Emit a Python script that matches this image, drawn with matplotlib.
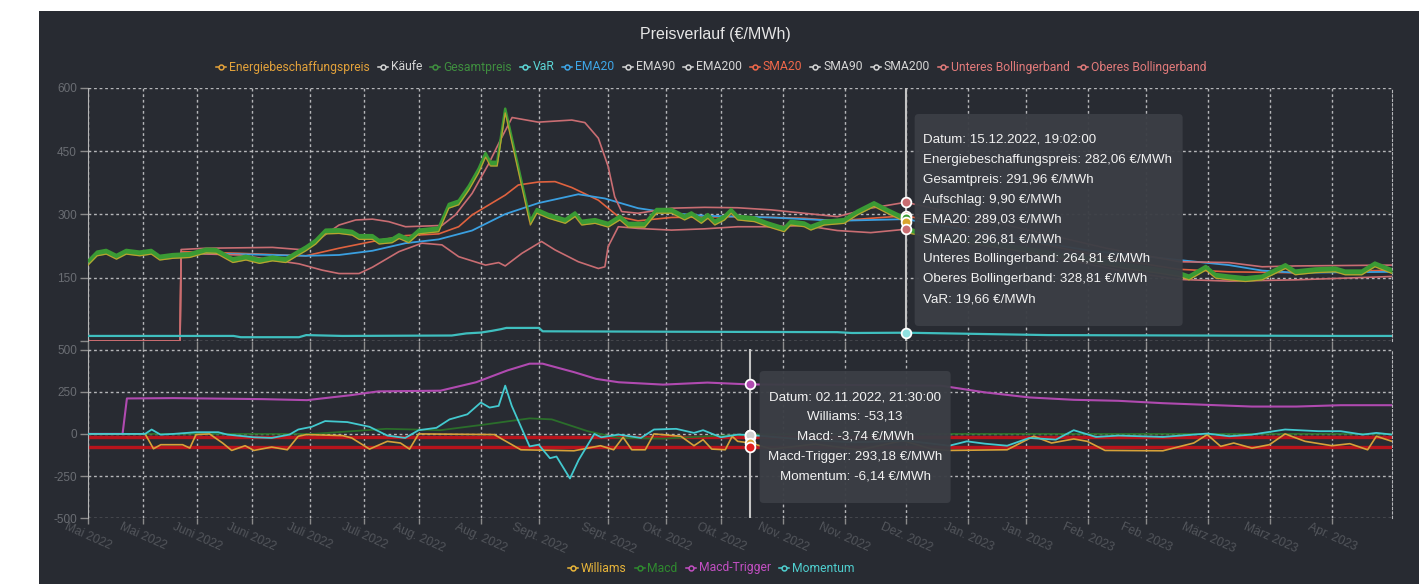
import matplotlib
matplotlib.use('Agg')
import matplotlib.pyplot as plt
from matplotlib import font_manager
from matplotlib.lines import Line2D
from matplotlib.patches import FancyBboxPatch, Rectangle
from matplotlib.transforms import IdentityTransform
import pandas as pd

W, H, DPI = 1419, 584, 100
BG = '#282b32'
GRID = '#cfd0d2'
YTICK_GRAY = '#6a6d73'
XTICK_GRAY = '#52555b'
FONT = 'Liberation Sans'
_names = {f.name for f in font_manager.fontManager.ttflist}
LEGEND_FONT = 'Liberation Sans Narrow' if 'Liberation Sans Narrow' in _names else 'Roboto'

# ---------------- Daten ----------------
START = pd.Timestamp('2022-05-05')
END = pd.Timestamp('2023-04-28 12:00')

tick_dates = ['2022-05-05', '2022-05-20', '2022-06-04', '2022-06-19', '2022-07-05',
              '2022-07-20', '2022-08-04', '2022-08-21', '2022-09-06', '2022-09-25',
              '2022-10-11', '2022-10-26', '2022-11-12', '2022-11-29', '2022-12-16',
              '2023-01-02', '2023-01-18', '2023-02-04', '2023-02-20', '2023-03-09',
              '2023-03-26', '2023-04-12']
tick_labels = ['Mai 2022', 'Mai 2022', 'Juni 2022', 'Juni 2022', 'Juli 2022', 'Juli 2022',
               'Aug. 2022', 'Aug. 2022', 'Sept. 2022', 'Sept. 2022', 'Okt. 2022', 'Okt. 2022',
               'Nov. 2022', 'Nov. 2022', 'Dez. 2022', 'Jan. 2023', 'Jan. 2023', 'Feb. 2023',
               'Feb. 2023', 'März 2023', 'März 2023', 'Apr. 2023']

# Tage seit START
price_days = [0, 2.5, 5, 7.8, 10.5, 14.2, 17.4, 19.7, 23.3, 27.9, 32.5, 35.2, 39.8, 43.4, 47.1,
              50.7, 54.4, 57.1, 59.9, 62.6, 65.3, 69, 72.6, 74.5, 78.2, 80, 83.6, 85.5, 88.2, 90.9,
              96.4, 99.2, 101.9, 104.7, 107.4, 109.3, 110.6, 112.5, 114.7, 121.6, 123.4, 126.6,
              131.2, 133.9, 135.7, 139.4, 143, 146.2, 148.5, 153.1, 156.3, 160.4, 164, 165.9,
              168.6, 170.4, 172.3, 175, 176.8, 178.6, 183.2, 186.9, 191.4, 193.2, 196.9, 198.7,
              202.4, 207.9, 211.5, 216.1, 219.7, 224.8, 226.1, 235, 245, 255, 265, 275, 285, 295,
              300, 302.7, 307.3, 310, 313.7, 318.2, 322.8, 329.2, 331.9, 337.4, 342.9, 345.6,
              350.2, 353.8, 358.5]
energy_price = [180, 202, 206, 194, 206, 202, 206, 192, 196, 198, 209, 208, 186, 192, 184,
                190, 186, 200, 214, 230, 254, 255, 251, 241, 241, 230, 233, 243, 233, 254,
                259, 315, 323, 358, 399, 436, 415, 415, 541, 275, 303, 291,
                279, 295, 275, 279, 270, 287, 270, 270, 303, 303, 287, 295,
                279, 291, 275, 287, 303, 287, 283, 271, 259, 275, 271, 263,
                275, 279, 299, 319, 303, 282, 255, 240, 228, 215, 200, 188, 172, 160,
                153, 145, 168, 149, 145, 141, 145, 172, 157, 162, 164, 157,
                157, 176, 160]
total_price = [190, 212, 216, 204, 216, 212, 216, 202, 206, 208, 219, 218, 196, 202, 194,
               200, 196, 210, 224, 240, 264, 265, 261, 251, 251, 240, 243, 253, 243, 264,
               269, 325, 333, 368, 409, 446, 425, 425, 551, 285, 313, 301,
               289, 305, 285, 289, 280, 297, 280, 280, 313, 313, 297, 305,
               289, 301, 285, 297, 313, 297, 293, 281, 269, 285, 281, 273,
               285, 289, 309, 329, 313, 292, 265, 250, 238, 225, 210, 198, 182, 170,
               163, 155, 178, 159, 155, 151, 155, 182, 167, 172, 174, 167,
               167, 186, 170]

upper_days = [0, 25.3, 25.6, 32.5, 41.6, 50.7, 58, 59.9, 64.4, 69, 73.6, 78.2, 82.7, 87.3, 97.3,
              101, 105.6, 110.2, 113.4, 116.6, 123.8, 133, 136.6, 140.3, 143, 144.8, 146.7,
              151.2, 160.4, 169.5, 178.6, 187.8, 196.9, 206, 215.2, 224.8, 240, 260, 280, 300,
              313.7, 322.8, 331.9, 358.5]
upper_band = [0, 0, 217, 220, 221, 222, 217, 216, 247, 275, 287, 289, 283, 271, 274,
              299, 350, 421, 477, 530, 519, 524, 518, 481, 414, 342, 307,
              303, 315, 317, 316, 311, 303, 295, 315, 329, 300, 260, 220, 188,
              186, 176, 178, 180]

lower_days = [0, 25.3, 25.6, 41.6, 58, 64.4, 69, 74.5, 78.2, 85.5, 91.8, 97.3, 101.9, 109.3,
              112.9, 114.7, 119.3, 124.7, 128.4, 134.8, 140.3, 142.1, 143, 145.8, 151.2, 160.4,
              169.5, 178.6, 187.8, 196.9, 206, 215.2, 224.8, 245, 265, 285, 300, 313.7, 331.9,
              358.5]
lower_band = [0, 0, 208, 204, 183, 168, 160, 160, 175, 212, 232, 228, 200, 180,
              186, 178, 208, 236, 216, 188, 172, 176, 224, 271, 267, 263,
              266, 271, 271, 274, 262, 257, 265, 235, 200, 165, 146, 142, 145,
              153]

sma20_days = [0, 25.3, 25.6, 41.6, 59.9, 69, 78.2, 87.3, 96.4, 101.9, 105.6, 114.7, 118.3,
              123.8, 128.4, 133, 140.3, 145.8, 151.2, 160.4, 178.6, 196.9, 206, 215.2, 224.8,
              245, 265, 285, 300, 313.7, 331.9, 358.5]
sma20 = [0, 0, 212, 208, 202, 220, 236, 250, 254, 271, 299, 346, 370,
         377, 378, 364, 334, 295, 285, 293, 295, 291, 285, 291, 297,
         262, 225, 190, 170, 164, 162, 168]

ema20_days = [25.6, 41.6, 59.9, 69, 78.2, 87.3, 96.4, 105.6, 114.7, 123.8, 134.8, 142.1, 151.2,
              160.4, 169.5, 187.8, 206, 224.8, 250, 275, 300, 313.7, 322.8, 331.9, 358.5]
ema20 = [208, 206, 202, 204, 214, 232, 241, 262, 301, 327, 348, 338, 315,
         303, 297, 293, 285, 289, 250, 215, 192, 180, 167, 162, 164]

var_days = [0, 40, 42, 58, 60, 70, 100, 104, 108, 111, 113.5, 115, 124, 125, 160, 206, 210,
            224.8, 264, 345, 358.5]
var_values = [12, 12, 9, 9, 14, 12, 13, 18, 20, 24, 28, 31, 31, 23, 22, 21, 19,
              19.66, 14, 12, 12]

trigger_days = [0, 9.5, 10.7, 23.5, 48, 60.2, 72.5, 79.8, 96.9, 106.7, 115.3, 121.4, 125, 133.6,
                139.7, 145.9, 158.1, 170.3, 181.9, 234.4, 246.6, 258.8, 271, 283.3, 295.5,
                307.7, 320, 332.2, 344.4, 358.5]
macd_trigger = [0, 0, 210, 212, 206, 200, 230, 252, 256, 306, 376, 416, 416, 366,
                326, 306, 292, 304, 293.18, 286, 246, 216, 202, 196, 182,
                172, 162, 162, 170, 170]

macd_days = [0, 62, 72.5, 82, 96.9, 109.2, 121.4, 127.5, 137.4, 145.9, 158.1, 170.3, 181.9,
             200, 358.5]
macd = [0, 0, 16, 30, 22, 56, 92, 86, 16, -24, -28, -14, -3.74, 0, 0]

williams_days = [0, 15.7, 18, 20, 26, 28, 29.7, 33.4, 37, 39.5, 43.2, 45.6, 50.5, 54.8, 57.8,
                 60, 70, 72.5, 77.4, 82.3, 85.9, 88.4, 90.9, 111.7, 114.1, 119, 133.6, 140.9,
                 144.5, 147.1, 149.5, 153.2, 155.6, 163, 166.6, 169.1, 171.5, 175.2, 177.1,
                 178.6, 181.9, 188, 200, 212, 224, 232, 236.8, 252.7, 260, 264.9, 271, 274.7,
                 279.6, 295.5, 304, 307.7, 311.4, 315, 320, 324.8, 329.1, 334.6, 342, 346.9,
                 351.8, 354.2, 358.5]
williams = [0, 0, -88, -64, -64, -84, -4, 0, -54, -98, -70, -98, -78, -94, -14,
            -4, -10, -24, -90, -44, -54, -90, 0, -4, -34, -94, -100, -70,
            -94, -20, -94, -94, 0, -14, -70, -34, -90, -94, -14,
            -44, -53.13, -90, -60, -95, -40, -90, -98, -94, -14, -54, -30, -44,
            -98, -100, -54, -4, -74, -54, -84, -64, 0, -44, -70, -58,
            -94, -14, -44]

momentum_days = [0, 15.7, 17.5, 19.9, 23.5, 29.7, 35.8, 38.3, 45.6, 50.5, 55.4, 57.8, 61.5, 65.2,
                 71.3, 77.4, 82.3, 87.2, 90.9, 95.8, 99.4, 104.3, 108, 110.4, 112.9, 114.7,
                 116.5, 121.4, 123.9, 127, 128.8, 132.5, 134.9, 139.2, 141.1, 145.9, 152,
                 155.6, 161.7, 166.6, 169.1, 174, 178.6, 181.9, 195, 210, 225, 236.8, 241.6,
                 246.6, 252.7, 258.8, 266.1, 271, 277.1, 283.3, 295.5, 307.7, 313.8, 320,
                 329.1, 338.3, 344.4, 350.5, 354.2, 358.5]
momentum = [0, 0, 26, -4, 0, 10, 10, -4, -20, -24, -4, 26, 42, 76,
            70, 42, -10, -24, 22, 36, 86, 116, 186, 156, 166, 286,
            166, -74, -64, -144, -134, -264, -154, 0, -20, -4, -24,
            26, 30, 6, 22, -20, -4, -6.14, -30, -50, -40, -70, -44,
            -58, -70, -24, -34, 22, -18, -10, -18, 2, -14, -4,
            26, 16, 16, -4, 6, -4]

williams_limits = [-20, -80]

# Tooltips
top_tip_time = '2022-12-15 19:02:00'
top_tip_labels = ['Energiebeschaffungspreis', 'Gesamtpreis', 'Aufschlag', 'EMA20', 'SMA20',
                  'Unteres Bollingerband', 'Oberes Bollingerband', 'VaR']
top_tip_values = [282.06, 291.96, 9.90, 289.03, 296.81, 264.81, 328.81, 19.66]
bottom_tip_time = '2022-11-02 21:30:00'
bottom_tip_labels = ['Williams', 'Macd', 'Macd-Trigger', 'Momentum']
bottom_tip_values = [-53.13, -3.74, 293.18, -6.14]

# Farben
C_ENERGY = '#d9a52e'
C_TOTAL = '#3a9a34'
C_EMA20 = '#3a9fe0'
C_SMA20 = '#e0623f'
C_BOLL = '#c96d72'
C_VAR = '#3fbfbf'
C_WILL = '#d6a23a'
C_MACD = '#2b6e2b'
C_TRIG = '#b04ab0'
C_MOM = '#43c9cf'
C_LIMIT = '#b8141c'
C_GRAYTXT = '#d6d6d6'

top_legend = [('Energiebeschaffungspreis', '#e3a23b'), ('Käufe', C_GRAYTXT),
              ('Gesamtpreis', '#3f8f3f'), ('VaR', '#5cd6d6'), ('EMA20', '#3ea6e8'),
              ('EMA90', C_GRAYTXT), ('EMA200', C_GRAYTXT), ('SMA20', '#f0684a'),
              ('SMA90', C_GRAYTXT), ('SMA200', C_GRAYTXT),
              ('Unteres Bollingerband', '#e37b7b'), ('Oberes Bollingerband', '#e37b7b')]
bottom_legend = [('Williams', '#e8b53a'), ('Macd', '#2f8a2f'), ('Macd-Trigger', '#c24fc2'),
                 ('Momentum', '#4fcfcf')]


def day(ts):
    return (pd.Timestamp(ts) - START) / pd.Timedelta(days=1)


def de(v):
    return f'{v:.2f}'.replace('.', ',')


# ---------------- Figur ----------------
fig = plt.figure(figsize=(W / DPI, H / DPI), dpi=DPI, facecolor='white')
fig.add_artist(Rectangle((39, 0), W - 39, H - 11, transform=IdentityTransform(),
                         facecolor=BG, edgecolor='none', zorder=-1))

ax1 = fig.add_axes([88 / W, 1 - 341 / H, 1304 / W, 253 / H])
ax2 = fig.add_axes([88 / W, 1 - 518.3 / H, 1304 / W, 168.8 / H])


def style_axis(ax, yticks, ylabels):
    ax.set_facecolor('none')
    ax.set_axisbelow(True)
    ax.set_xlim(0, day(END))
    ax.set_ylim(yticks[0], yticks[-1])
    ax.set_yticks(yticks)
    ax.set_yticklabels(ylabels)
    ax.set_xticks([day(t) for t in tick_dates])
    ax.grid(True, color=GRID, linestyle=(0, (2, 2)), linewidth=1, alpha=0.85)
    ax.spines['top'].set_visible(False)
    ax.spines['bottom'].set_visible(False)
    ax.spines['left'].set_color('#b5b5b5')
    ax.spines['right'].set_color(GRID)
    ax.spines['right'].set_linestyle((0, (2, 2)))
    ax.spines['right'].set_alpha(0.85)
    ax.tick_params(color='#8a8a8a', length=6, width=1, labelsize=8.5, pad=2)
    ax.tick_params(axis='y', labelcolor=YTICK_GRAY)
    for t in ax.get_yticklabels():
        t.set_fontfamily(FONT)


# oberes Diagramm
style_axis(ax1, [0, 150, 300, 450, 600], ['', '150', '300', '450', '600'])
ax1.tick_params(axis='x', labelbottom=False)

ax1.plot(sma20_days, sma20, color=C_SMA20, lw=1.2, zorder=2)
ax1.plot(ema20_days, ema20, color=C_EMA20, lw=1.3, zorder=2)
ax1.plot(upper_days, upper_band, color=C_BOLL, lw=1.2, zorder=2)
ax1.plot(lower_days, lower_band, color=C_BOLL, lw=1.2, zorder=2)
ax1.fill_between(price_days, energy_price, total_price, color=C_TOTAL, lw=0, zorder=3)
ax1.plot(price_days, total_price, color=C_TOTAL, lw=1.8, zorder=3)
ax1.plot(price_days, energy_price, color=C_ENERGY, lw=0.9, alpha=0.8, zorder=3)
ax1.plot(var_days, var_values, color=C_VAR, lw=1.6, zorder=3)

# unteres Diagramm
style_axis(ax2, [-500, -250, 0, 250, 500], ['-500', '-250', '0', '250', '500'])
ax2.tick_params(axis='x', length=4, pad=-2)
ax2.set_xticklabels(tick_labels, rotation=-24, ha='center', va='top',
                    color=XTICK_GRAY, fontsize=8.7, family=FONT)
for lim in williams_limits:
    ax2.axhline(lim, color=C_LIMIT, lw=2.4, zorder=2)
ax2.plot(macd_days, macd, color=C_MACD, lw=1.3, zorder=3)
ax2.plot(trigger_days, macd_trigger, color=C_TRIG, lw=1.5, zorder=3)
ax2.plot(williams_days, williams, color=C_WILL, lw=1.2, zorder=3)
ax2.plot(momentum_days, momentum, color=C_MOM, lw=1.3, zorder=3)

# Cursor-Linien und Punkte
t1 = day(top_tip_time)
t2 = day(bottom_tip_time)
ax1.axvline(t1, color='#c4c4c4', lw=1.5, zorder=4)
ax2.axvline(t2, color='#c4c4c4', lw=1.5, zorder=4)

top_markers = [(top_tip_values[6], C_BOLL), (top_tip_values[4], C_SMA20),
               (top_tip_values[3], C_EMA20), (top_tip_values[1], C_TOTAL),
               (top_tip_values[0], C_ENERGY), (top_tip_values[5], C_BOLL),
               (top_tip_values[7], '#8fe0e0')]
for v, c in top_markers:
    ax1.plot([t1], [v], 'o', ms=7, mfc=c, mec='white', mew=1.3, zorder=5)

bottom_markers = [(bottom_tip_values[2], C_TRIG), (williams_limits[0], C_LIMIT),
                  (bottom_tip_values[3], '#8fe0e0'), (bottom_tip_values[1], '#cfcfcf'),
                  (bottom_tip_values[0], C_WILL), (williams_limits[1], '#e02020')]
for v, c in bottom_markers:
    ax2.plot([t2], [v], 'o', ms=7, mfc=c, mec='white', mew=1.3, zorder=5)

# Titel
fig.text(715 / W, 1 - 35 / H, 'Preisverlauf (€/MWh)', ha='center', va='center',
         color='#e6e6e6', fontsize=11.5, family=FONT)

# Legenden (wie Chart.js: zentriert, Symbol + farbiger Text)
renderer = fig.canvas.get_renderer()


def draw_legend(entries, center_x, y_px, fontsize):
    sym, gap, item_gap = 10, 3, 8
    yd = H - y_px
    items = []
    total = 0
    for label, color in entries:
        t = fig.text(0, yd, label, color=color, fontsize=fontsize, family=LEGEND_FONT,
                     ha='left', va='center', transform=IdentityTransform())
        w = t.get_window_extent(renderer).width
        items.append((t, w, color))
        total += sym + gap + w
    total += item_gap * (len(entries) - 1)
    x = center_x - total / 2
    for t, w, color in items:
        fig.add_artist(Line2D([x, x + sym], [yd, yd], transform=IdentityTransform(),
                              color=color, lw=1.1))
        fig.add_artist(Line2D([x + sym / 2], [yd], transform=IdentityTransform(),
                              marker='o', ms=3.5, mfc=BG, mec=color, mew=1.1, lw=0))
        t.set_position((x + sym + gap, yd))
        x += sym + gap + w + item_gap


draw_legend(top_legend, 711, 67, 8.7)
draw_legend(bottom_legend, 711, 568, 8.7)


# Tooltips
def tooltip_box(left, top_px, width, height):
    fig.add_artist(FancyBboxPatch((left, H - top_px - height), width, height,
                                  boxstyle='round,pad=0,rounding_size=4',
                                  transform=IdentityTransform(), facecolor='#3b3e45',
                                  edgecolor='none', alpha=0.96, zorder=8))


cx1 = ax1.transData.transform((t1, 0))[0]
left1 = cx1 + 9
tooltip_box(left1, 114, 268, 212)
lines1 = ['Datum: ' + pd.Timestamp(top_tip_time).strftime('%d.%m.%Y, %H:%M:%S')]
lines1 += [f'{lab}: {de(v)} €/MWh' for lab, v in zip(top_tip_labels, top_tip_values)]
for i, s in enumerate(lines1):
    fig.text(left1 + 8, H - (140 + 19.9 * i), s, color='#f2f2f2', fontsize=9.65, family=FONT,
             ha='left', va='center', transform=IdentityTransform(), zorder=9)

cx2 = ax2.transData.transform((t2, 0))[0]
left2 = cx2 + 10
tooltip_box(left2, 371, 191, 132)
lines2 = ['Datum: ' + pd.Timestamp(bottom_tip_time).strftime('%d.%m.%Y, %H:%M:%S')]
for lab, v in zip(bottom_tip_labels, bottom_tip_values):
    unit = '' if lab == 'Williams' else ' €/MWh'
    lines2.append(f'{lab}: {de(v)}{unit}')
for i, s in enumerate(lines2):
    fig.text(left2 + 95.5, H - (397 + 19.9 * i), s, color='#f2f2f2', fontsize=9.65,
             family=FONT, ha='center', va='center', transform=IdentityTransform(), zorder=9)

fig.savefig('out.png', dpi=DPI, facecolor='white')
